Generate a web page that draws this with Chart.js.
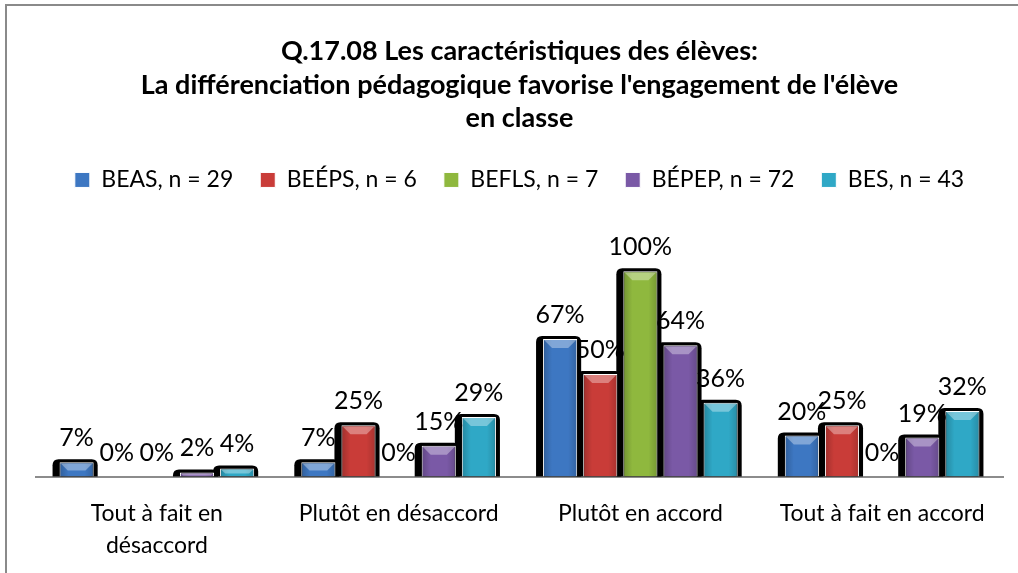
<!DOCTYPE html>
<html>
<head>
<meta charset="utf-8">
<title>Q.17.08</title>
<script src="https://cdn.jsdelivr.net/npm/chart.js@4.4.0/dist/chart.umd.min.js"></script>
<style>
  html, body { margin: 0; padding: 0; background: #fff; overflow: hidden; }
  #wrap { width: 1018px; height: 573px; }
</style>
</head>
<body>
<div id="wrap"><canvas id="chart" width="1018" height="573"></canvas></div>
<script>
// data (percent)
const categories = [['Tout à fait en', 'désaccord'], 'Plutôt en désaccord', 'Plutôt en accord', 'Tout à fait en accord'];
const seriesNames = ['BEAS, n = 29', 'BEÉPS, n = 6', 'BEFLS, n = 7', 'BÉPEP, n = 72', 'BES, n = 43'];
const beas  = [7, 7, 67, 20];
const beeps = [0, 25, 50, 25];
const befls = [0, 0, 100, 0];
const bepep = [2, 15, 64, 19];
const bes   = [4, 29, 36, 32];

const seriesColors = ['#3d77c2', '#c93c38', '#8fb83e', '#7a59a6', '#2fa8c6'];
const FONT = "Lato, 'Liberation Sans', sans-serif";

// grey frame around the chart
const framePlugin = {
    id: 'frame',
    beforeDraw(chart) {
        const ctx = chart.ctx;
        ctx.save();
        ctx.fillStyle = '#fff';
        ctx.fillRect(0, 0, chart.width, chart.height);
        ctx.strokeStyle = '#8a8a8a';
        ctx.lineWidth = 2;
        ctx.strokeRect(6, 5, 1100, 700);
        ctx.restore();
    }
};

function roundRect(ctx, x, y, w, h, r) {
    ctx.beginPath();
    ctx.moveTo(x + r, y);
    ctx.lineTo(x + w - r, y);
    ctx.quadraticCurveTo(x + w, y, x + w, y + r);
    ctx.lineTo(x + w, y + h);
    ctx.lineTo(x, y + h);
    ctx.lineTo(x, y + r);
    ctx.quadraticCurveTo(x, y, x + r, y);
    ctx.closePath();
}

// dark halo behind each bar, bevel on top, value labels
const barLook = {
    id: 'barLook',
    beforeDatasetsDraw(chart) {
        const ctx = chart.ctx;
        ctx.save();
        ctx.fillStyle = '#000';
        chart.data.datasets.forEach((ds, i) => {
            chart.getDatasetMeta(i).data.forEach((el, j) => {
                if (!ds.data[j]) return;
                const p = el.getProps(['x', 'y', 'base', 'width'], true);
                roundRect(ctx, p.x - p.width / 2 - 7, p.y - 3, p.width + 11, p.base - p.y + 3, 6);
                ctx.fill();
            });
        });
        ctx.restore();
    },
    afterDatasetsDraw(chart) {
        const ctx = chart.ctx;
        ctx.save();
        chart.data.datasets.forEach((ds, i) => {
            chart.getDatasetMeta(i).data.forEach((el, j) => {
                const p = el.getProps(['x', 'y', 'base', 'width'], true);
                const l = p.x - p.width / 2 + 1, r = p.x + p.width / 2 - 1;
                const h = p.base - p.y;
                if (ds.data[j]) {
                    const b = Math.min(8, h / 2);
                    // darker sides
                    const g = ctx.createLinearGradient(l, 0, r, 0);
                    g.addColorStop(0, 'rgba(0,0,0,0.18)');
                    g.addColorStop(0.25, 'rgba(0,0,0,0)');
                    g.addColorStop(0.75, 'rgba(0,0,0,0)');
                    g.addColorStop(1, 'rgba(0,0,0,0.15)');
                    ctx.fillStyle = g;
                    ctx.fillRect(l, p.y + 1, r - l, h - 1);
                    // light top bevel
                    ctx.fillStyle = 'rgba(255,255,255,0.35)';
                    ctx.beginPath();
                    ctx.moveTo(l, p.y + 1);
                    ctx.lineTo(r, p.y + 1);
                    ctx.lineTo(r - b, p.y + 1 + b);
                    ctx.lineTo(l + b, p.y + 1 + b);
                    ctx.closePath();
                    ctx.fill();
                }
                ctx.fillStyle = '#000';
                ctx.font = '25px ' + FONT;
                ctx.textAlign = 'center';
                ctx.textBaseline = 'alphabetic';
                ctx.fillText(ds.data[j] + '%', p.x, p.y - 16);
            });
        });
        ctx.restore();
    }
};

const seriesData = [beas, beeps, befls, bepep, bes];

new Chart(document.getElementById('chart'), {
    type: 'bar',
    data: {
        labels: categories,
        datasets: seriesNames.map((name, i) => ({
            label: name,
            data: seriesData[i],
            backgroundColor: seriesColors[i],
            borderColor: '#ffffff',
            borderWidth: 1,
            categoryPercentage: 0.83,
            barPercentage: 0.85
        }))
    },
    options: {
        responsive: false,
        animation: false,
        layout: { padding: { top: 24, left: 36, right: 15, bottom: -10 } },
        plugins: {
            title: {
                display: true,
                text: ['Q.17.08 Les caractéristiques des élèves:',
                       "La différenciation pédagogique favorise l'engagement de l'élève",
                       'en classe'],
                color: '#000',
                font: { family: FONT, size: 27, weight: 'bold', lineHeight: 1.24 },
                padding: { top: 11, bottom: 6 }
            },
            legend: {
                position: 'top',
                labels: {
                    color: '#000',
                    font: { family: FONT, size: 23 },
                    boxWidth: 15,
                    boxHeight: 15,
                    padding: 27
                }
            },
            tooltip: { enabled: false }
        },
        scales: {
            x: {
                grid: { display: false, drawTicks: false },
                border: { display: true, color: '#8c8c8c', width: 2 },
                ticks: {
                    color: '#000',
                    font: { family: FONT, size: 23, lineHeight: 1.4 },
                    padding: 21,
                    maxRotation: 0,
                    autoSkip: false
                }
            },
            y: {
                display: false,
                min: 0,
                max: 134
            }
        }
    },
    plugins: [framePlugin, barLook]
});
</script>
</body>
</html>
